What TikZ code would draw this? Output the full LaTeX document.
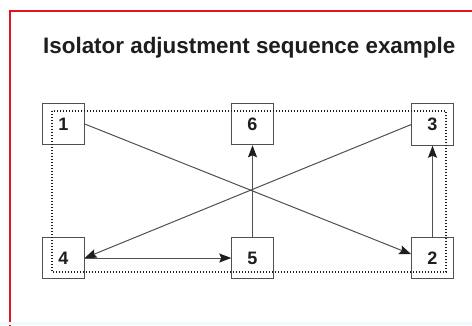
\documentclass[tikz,border=0pt]{standalone}
\usepackage{fontspec}
\setmainfont{Liberation Sans}
\usetikzlibrary{arrows.meta}
\definecolor{redframe}{HTML}{E3141C}
\definecolor{linegray}{HTML}{505050}
\definecolor{inkdark}{HTML}{1E1E1E}
\definecolor{stripcyan}{HTML}{EEFAFC}
\begin{document}
\begin{tikzpicture}[x=1pt,y=-1pt,
  numbox/.style={draw=linegray, line width=1pt, minimum width=41.5pt, minimum height=41.5pt,
    inner sep=0pt, font=\fontsize{18}{18}\bfseries\selectfont, text=inkdark},
  conn/.style={draw=linegray, line width=1pt,
    -{Stealth[length=12pt,width=9pt,inset=2pt,color=inkdark]}},
  dotframe/.style={draw=inkdark, line width=1.5pt, dash pattern=on 1.1pt off 1.9pt}]
\useasboundingbox (0,0) rectangle (472,325);
\fill[white] (0,0) rectangle (472,325);
\draw[redframe, line width=2pt] (9.5,10.5) rectangle (490,340);
\fill[stripcyan] (0,322) rectangle (472,325);
\node[anchor=base west, font=\fontsize{22.4}{22.4}\bfseries\selectfont, text=inkdark, inner sep=0pt]
  (title) at (43,53) {Isolator adjustment sequence example};
\node[numbox] (b1) at (63.5,124) {1};
\node[numbox] (b6) at (252.5,124) {6};
\node[numbox] (b3) at (432.5,124.5) {3};
\node[numbox] (b4) at (63.5,258) {4};
\node[numbox] (b5) at (252.5,258) {5};
\node[numbox] (b2) at (432.5,258) {2};
\draw[conn] (b1.east) -- (b2.170);
\draw[conn] (b2.north) -- (b3.south);
\draw[conn] (b3.west) -- (b4.east);
\draw[conn] (b4.east) -- (b5.west);
\draw[conn] (b5.north) -- (b6.south);
\coordinate (dtl) at (52,111);
\coordinate (dbr) at (446,272);
\draw[dotframe] (dtl) rectangle (dbr);
\end{tikzpicture}
\end{document}
